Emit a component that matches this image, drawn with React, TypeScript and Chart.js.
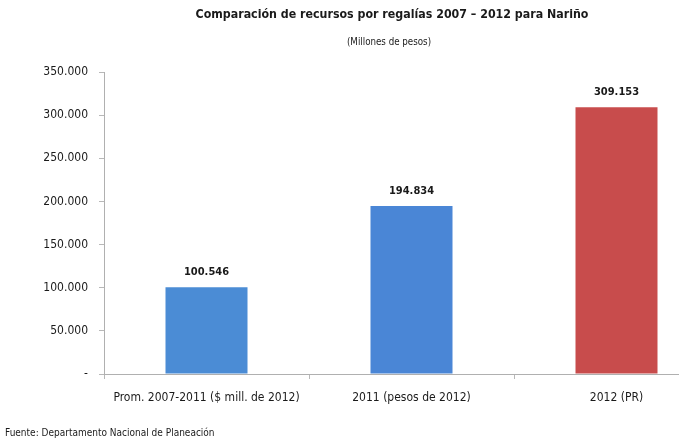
import React, { useEffect, useRef } from "react";
import { Chart, registerables } from "chart.js";

Chart.register(...registerables);

const TITLE = "Comparación de recursos por regalías 2007 – 2012 para Nariño";
const SUBTITLE = "(Millones de pesos)";
const SOURCE = "Fuente: Departamento Nacional de Planeación";

const categories = [
  "Prom. 2007-2011 ($ mill. de 2012)",
  "2011 (pesos de 2012)",
  "2012 (PR)",
];
const values = [100546, 194834, 309153];
const barColors = ["#4b8cd5", "#4a86d6", "#c84c4c"];
const yMin = 0;
const yMax = 350000;
const yStep = 50000;

const FONT = "'Liberation Sans Narrow', 'DejaVu Sans Condensed', Roboto, sans-serif";

function fmt(v: number): string {
  if (v === 0) return "-";
  return Math.round(v)
    .toString()
    .replace(/\B(?=(\d{3})+(?!\d))/g, ".");
}

const textPlugin = {
  id: "texts",
  afterDraw(chart: any) {
    const ctx = chart.ctx;
    ctx.save();
    ctx.fillStyle = "#1a1a1a";
    ctx.textAlign = "center";
    ctx.textBaseline = "middle";
    ctx.font = `bold 12.3px ${FONT}`;
    ctx.fillText(TITLE, 392, 15);
    ctx.font = `9.7px ${FONT}`;
    ctx.fillText(SUBTITLE, 389, 42);
    ctx.textAlign = "left";
    ctx.font = `10px ${FONT}`;
    ctx.fillText(SOURCE, 5, 433);
    // value labels
    ctx.textAlign = "center";
    ctx.font = `bold 11px ${FONT}`;
    const meta = chart.getDatasetMeta(0);
    meta.data.forEach((bar: any, i: number) => {
      ctx.fillText(fmt(values[i]), bar.x, bar.y - 15);
    });
    ctx.restore();
  },
};

export default function App() {
  const ref = useRef<HTMLCanvasElement | null>(null);
  useEffect(() => {
    if (!ref.current) return;
    const chart = new Chart(ref.current, {
      type: "bar",
      data: {
        labels: categories,
        datasets: [
          {
            data: values,
            backgroundColor: barColors,
            borderWidth: 0,
            barPercentage: 0.8,
            categoryPercentage: 0.5,
          },
        ],
      },
      options: {
        animation: false,
        responsive: false,
        maintainAspectRatio: false,
        layout: { padding: { left: 0, right: 61, top: 72, bottom: 26 } },
        plugins: {
          legend: { display: false },
          tooltip: { enabled: false },
          title: { display: false },
        },
        scales: {
          x: {
            grid: {
              display: true,
              drawOnChartArea: false,
              tickLength: 5,
              color: "#b8b8b8",
              offset: true,
            },
            border: { color: "#b0b0b0" },
            ticks: {
              color: "#1a1a1a",
              font: { family: FONT, size: 12 },
              padding: 12,
              maxRotation: 0,
            },
            afterFit(scale: any) {
              scale.height = 45;
            },
          },
          y: {
            min: yMin,
            max: yMax,
            grid: {
              display: true,
              drawOnChartArea: false,
              tickLength: 5,
              color: "#b8b8b8",
            },
            border: { color: "#b0b0b0" },
            ticks: {
              stepSize: yStep,
              color: "#1a1a1a",
              font: { family: FONT, size: 12 },
              padding: 11,
              callback: (v: any) => fmt(Number(v)),
            },
            afterFit(scale: any) {
              scale.width = 104;
            },
          },
        },
      },
      plugins: [textPlugin],
    });
    return () => chart.destroy();
  }, []);
  return (
    <div
      style={{
        position: "absolute",
        left: 0,
        top: 0,
        width: 679,
        height: 445,
        overflow: "hidden",
        background: "#ffffff",
      }}
    >
      <canvas ref={ref} width={780} height={445} style={{ display: "block" }} />
    </div>
  );
}
